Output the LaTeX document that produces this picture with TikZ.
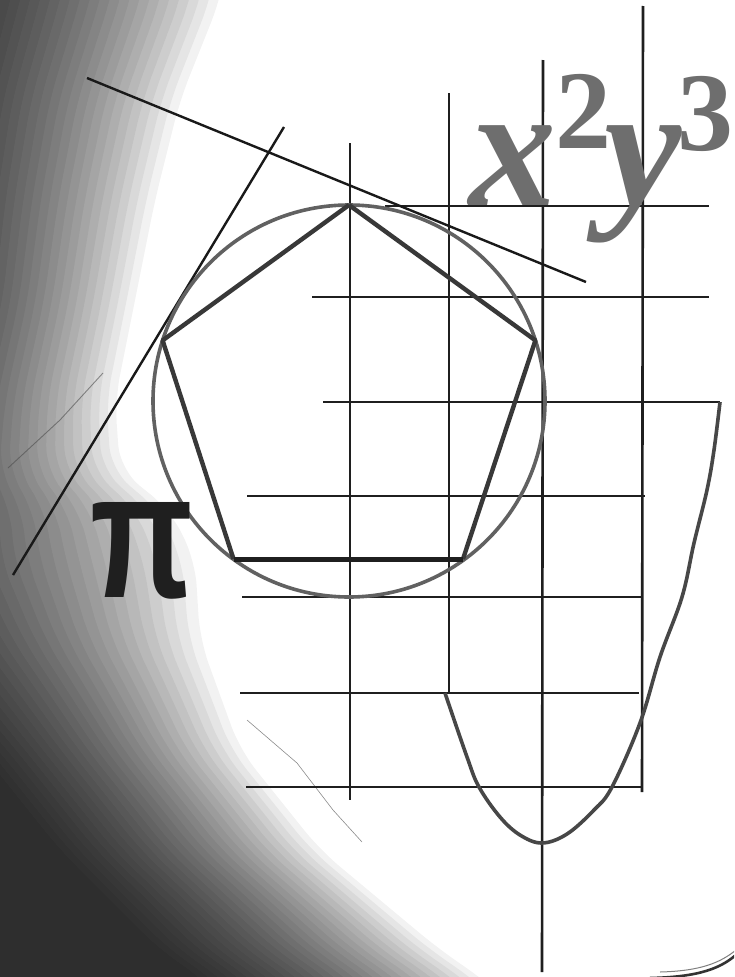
\documentclass[tikz,border=0pt]{standalone}
\usepackage{fontspec}
\setmainfont{Liberation Serif}
\newfontfamily\pifont{Liberation Sans}
\begin{document}
\begin{tikzpicture}[x=1pt,y=-1pt,
  gridline/.style={line width=2.6pt, draw=black!88},
  tangline/.style={line width=2.4pt, draw=black!90},
  circline/.style={line width=3.6pt, draw=black!62},
  pentline/.style={line width=4.4pt, draw=black!78, line join=round},
  parabline/.style={line width=3.6pt, draw=black!72},
  bigtext/.style={inner sep=0pt, anchor=base west, text=black!57}]
\useasboundingbox (0,0) rectangle (734,977);
\clip (0,0) rectangle (734,977);
\fill[white] (0,0) rectangle (734,977);
% --- shaded background (dark on the left, light cone from upper right)
\foreach \k in {0,...,29}{
  \pgfmathsetmacro\t{\k/29}
  \fill[black, opacity=0.052, rounded corners=25pt] (-600,-100)
    \foreach \a/\b/\c/\d in {-40/-100/240/-100, -70/0/220/0, -90/100/180/100,
      -100/200/155/200, -105/300/135/300, -130/400/115/400, -150/470/120/470,
      -160/510/170/510, -180/560/195/560, -120/640/200/640, -20/750/240/750,
      60/850/320/850, 160/950/440/950, 200/977/480/977, 300/1077/600/1077}
      { -- ({\a+\t*(\c-\a)},{\b+\t*(\d-\b)}) }
    -- (-600,1077) -- cycle;
}
% scratches of the scan
\draw[black!70, opacity=0.6, line width=0.9pt] (103,373) -- (60,420) -- (8,468);
\draw[black!45, line width=0.6pt] (247,720) -- (297,763) -- (333,810) -- (362,842);
% page edge bottom right
\draw[black!80, line width=2.6pt] (650,978) .. controls (700,977) and (722,968) .. (738,953);
\draw[black!50, line width=1pt] (660,972) .. controls (700,971) and (720,963) .. (736,950);

% --- grid
\coordinate (v1t) at (350,143); \coordinate (v1b) at (350,800);
\coordinate (v2t) at (449,93);  \coordinate (v2b) at (449,693);
\coordinate (v3t) at (543,60);  \coordinate (v3b) at (542,972);
\coordinate (v4t) at (643,6);   \coordinate (v4b) at (642,792);
\draw[gridline] (v1t) -- (v1b);
\draw[gridline] (v2t) -- (v2b);
\draw[gridline] (v3t) -- (v3b);
\draw[gridline] (v4t) -- (v4b);
\coordinate (h1l) at (385,206); \coordinate (h1r) at (709,206);
\coordinate (h2l) at (312,297); \coordinate (h2r) at (709,297);
\coordinate (h3l) at (323,402); \coordinate (h3r) at (720,402);
\coordinate (h4l) at (247,496); \coordinate (h4r) at (645,496);
\coordinate (h6l) at (242,597); \coordinate (h6r) at (642,597);
\coordinate (h7l) at (240,693); \coordinate (h7r) at (639,693);
\coordinate (h8l) at (246,787); \coordinate (h8r) at (641,787);
\foreach \n in {1,2,3,4,6,7,8}{ \draw[gridline] (h\n l) -- (h\n r); }

% --- tangent lines
\coordinate (t1a) at (87,78);   \coordinate (t1b) at (586,282);
\coordinate (t2a) at (284,127); \coordinate (t2b) at (13,575);
\draw[tangline] (t1a) -- (t1b);
\draw[tangline] (t2a) -- (t2b);

% --- circle and inscribed pentagon
\coordinate (O) at (349,401);
\draw[circline] (O) circle[radius=196];
\coordinate (p1) at (349,205);
\coordinate (p2) at (535.4,340.4);
\coordinate (p3) at (463,559);
\coordinate (p4) at (233.5,559);
\coordinate (p5) at (162.6,340.4);
\draw[pentline] (p1) -- (p2) -- (p3);
\draw[pentline] (p4) -- (p5) -- (p1);
\draw[pentline, draw=black!88, line width=5pt] (p3) -- (p4);

% --- parabola
\draw[parabline] plot[smooth, tension=0.6] coordinates {(445,693) (467,757) (479,787)
  (500,817) (520,835) (542,843) (567,834) (594,810) (612,787) (640,723) (660,657)
  (682,597) (694,543) (707,490) (714,450) (720,402)};

% --- texts
\node[bigtext, font=\fontsize{174}{174}\selectfont\bfseries\itshape] (tx) at (469,205) {x};
\node[bigtext, font=\fontsize{112}{112}\selectfont\bfseries] (t2) at (555,148) {2};
\node[bigtext, font=\fontsize{174}{174}\selectfont\bfseries\itshape] (ty) at (604,205) {y};
\node[bigtext, font=\fontsize{112}{112}\selectfont\bfseries] (t3) at (677,150) {3};
\node[inner sep=0pt, text=black!88] (pi) at (141.5,550.5)
  {\resizebox{103pt}{95pt}{\pifont\bfseries π}};
\end{tikzpicture}
\end{document}
